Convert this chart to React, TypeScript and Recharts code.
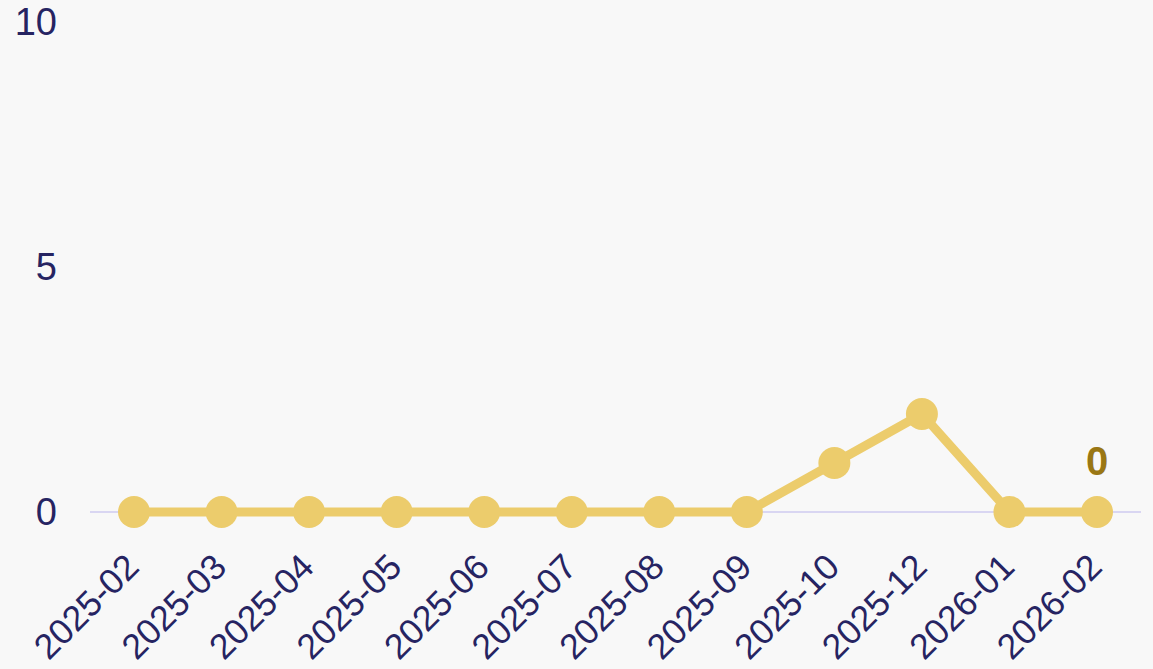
import { LineChart, Line, XAxis, YAxis, LabelList, CartesianGrid } from "recharts";

const months = [
  "2025-02", "2025-03", "2025-04", "2025-05", "2025-06", "2025-07",
  "2025-08", "2025-09", "2025-10", "2025-12", "2026-01", "2026-02"
];
const counts = [0, 0, 0, 0, 0, 0, 0, 0, 1, 2, 0, 0];
const yTicks = [0, 5, 10];

const data = months.map((month, i) => ({ month, count: counts[i] }));

const NAVY = "#262462";
const GOLD = "#ECCC6C";
const FONT = "'Liberation Sans', Arial, sans-serif";

const MonthTick = (props: any) => {
  const { x, payload } = props;
  return (
    <g transform={`translate(${x + 7},${569})`}>
      <text transform="rotate(-45)" textAnchor="end" fill={NAVY} fontSize={35.5} fontFamily={FONT}>
        {payload.value}
      </text>
    </g>
  );
};

const LastLabel = (props: any) => {
  const { x, y, value, index } = props;
  if (index !== counts.length - 1) return null;
  return (
    <text x={x} y={y - 37} textAnchor="middle" fill="#9A7714" fontSize={40} fontWeight="bold" fontFamily={FONT}>
      {value}
    </text>
  );
};

export default function App() {
  return (
    <div style={{ position: "fixed", left: 0, top: 0, width: 1153, height: 669, background: "#F8F8F8" }}>
      <LineChart width={1153} height={669} data={data} margin={{ top: 22, right: 12, left: 0, bottom: 0 }}>
        {/* baseline drawn as grid so the series sits on top of it */}
        <CartesianGrid vertical={false} horizontalValues={[0]} stroke="#D9D6F2" strokeWidth={2} />
        <XAxis
          dataKey="month"
          height={157}
          interval={0}
          padding={{ left: 44, right: 44 }}
          axisLine={false}
          tickLine={false}
          tick={<MonthTick />}
        />
        <YAxis
          width={90}
          domain={[0, 10]}
          ticks={yTicks}
          axisLine={false}
          tickLine={false}
          tickSize={0}
          tickMargin={33}
          tick={{ fill: NAVY, fontSize: 38, fontFamily: FONT }}
        />
        <Line
          type="linear"
          dataKey="count"
          stroke={GOLD}
          strokeWidth={9}
          dot={{ r: 16, fill: GOLD, stroke: "none" }}
          activeDot={false}
          isAnimationActive={false}
        >
          <LabelList dataKey="count" content={<LastLabel />} />
        </Line>
      </LineChart>
    </div>
  );
}
